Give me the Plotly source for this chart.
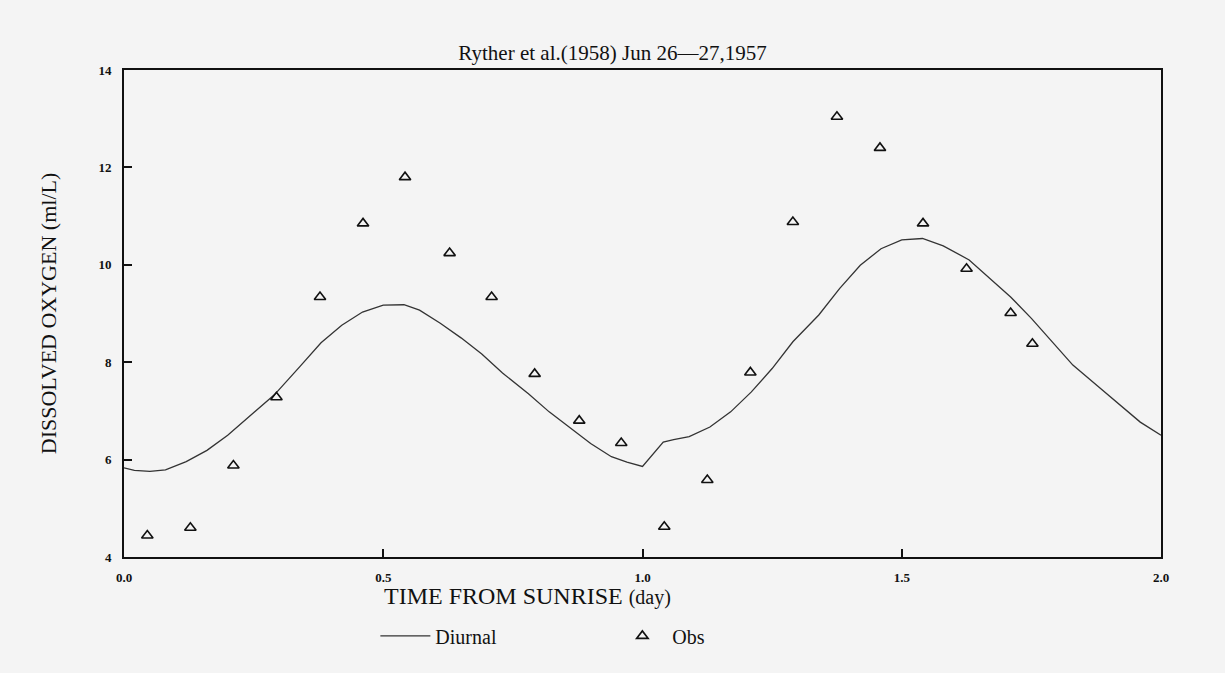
import plotly.graph_objects as go

# ---- data ----
obs_time = [0.045, 0.128, 0.211, 0.294, 0.378, 0.461, 0.542, 0.628, 0.709, 0.792, 0.878, 0.959,
            1.042, 1.125, 1.208, 1.290, 1.375, 1.458, 1.541, 1.625, 1.710, 1.752]
obs_do = [4.44, 4.60, 5.88, 7.28, 9.34, 10.85, 11.80, 10.24, 9.34, 7.76, 6.80, 6.34,
          4.62, 5.58, 7.79, 10.88, 13.04, 12.40, 10.85, 9.92, 9.01, 8.38]

diurnal_time = [0.0, 0.02, 0.05, 0.08, 0.12, 0.16, 0.20, 0.25, 0.29, 0.34, 0.38, 0.42, 0.46,
                0.50, 0.54, 0.57, 0.61, 0.65, 0.69, 0.73, 0.78, 0.82, 0.86, 0.90, 0.94, 0.97,
                1.00, 1.04, 1.06, 1.09, 1.13, 1.17, 1.21, 1.25, 1.29, 1.34, 1.38, 1.42, 1.46,
                1.50, 1.54, 1.58, 1.63, 1.67, 1.71, 1.75, 1.79, 1.83, 1.88, 1.92, 1.96, 2.00]
diurnal_do = [5.83, 5.78, 5.76, 5.79, 5.96, 6.19, 6.50, 6.96, 7.33, 7.92, 8.40, 8.76, 9.03,
              9.17, 9.18, 9.07, 8.80, 8.50, 8.17, 7.78, 7.35, 6.98, 6.66, 6.33, 6.06, 5.95,
              5.86, 6.36, 6.41, 6.47, 6.67, 6.98, 7.39, 7.87, 8.42, 8.97, 9.51, 9.99, 10.33,
              10.51, 10.54, 10.39, 10.10, 9.72, 9.34, 8.90, 8.42, 7.94, 7.49, 7.12, 6.77, 6.50]

x_ticks = [0.0, 0.5, 1.0, 1.5, 2.0]
x_tick_labels = ["0.0", "0.5", "1.0", "1.5", "2.0"]
y_ticks = [4, 6, 8, 10, 12, 14]
y_tick_labels = ["4", "6", "8", "10", "12", "14"]

FONT = "Liberation Serif, Times New Roman, serif"
BG = "#f4f4f4"
INK = "#111111"

fig = go.Figure()
fig.add_trace(go.Scatter(
    x=diurnal_time, y=diurnal_do, mode="lines", name="Diurnal",
    line=dict(color="#333333", width=1.3),
))
fig.add_trace(go.Scatter(
    x=obs_time, y=obs_do, mode="markers", name="Obs",
    marker=dict(symbol="triangle-up-open", size=10, color=INK, line=dict(width=1.6)),
))

tickfont = dict(size=13, family=FONT, color=INK, weight="bold")

fig.update_layout(
    width=1225, height=673,
    margin=dict(l=124, r=64, t=70, b=116),
    paper_bgcolor=BG, plot_bgcolor=BG,
    font=dict(family=FONT, color=INK),
    title=dict(text="Ryther et al.(1958) Jun 26—27,1957", x=0.5, xanchor="center",
               y=1 - 53 / 673, yanchor="middle", font=dict(size=21, family=FONT, color=INK)),
    showlegend=True,
    legend=dict(orientation="h", x=0.2424, xanchor="left", y=-0.162, yanchor="middle",
                bgcolor="rgba(0,0,0,0)", font=dict(size=20, family=FONT, color=INK),
                entrywidth=172, entrywidthmode="pixels", itemwidth=50),
    xaxis=dict(range=[0, 2], tickvals=x_ticks, ticktext=x_tick_labels,
               showline=True, linecolor=INK, linewidth=2, mirror=True,
               ticks="inside", ticklen=8, tickwidth=1.5, tickcolor=INK,
               showgrid=False, zeroline=False, ticklabelstandoff=7,
               tickfont=tickfont),
    yaxis=dict(range=[4, 14], tickvals=y_ticks, ticktext=y_tick_labels,
               showline=True, linecolor=INK, linewidth=2, mirror=True,
               ticks="inside", ticklen=8, tickwidth=1.5, tickcolor=INK,
               showgrid=False, zeroline=False, ticklabelstandoff=8,
               tickfont=tickfont,
               title=dict(text="DISSOLVED OXYGEN (ml/L)", standoff=36,
                          font=dict(size=22, family=FONT, color=INK))),
)

fig.add_annotation(
    text="TIME FROM SUNRISE <span style='font-size:20px'>(day)</span>",
    xref="paper", yref="paper", x=0.2488, xanchor="left", y=-0.080, yanchor="middle",
    showarrow=False, font=dict(size=24, family=FONT, color=INK),
)

fig.write_html("out.html")
